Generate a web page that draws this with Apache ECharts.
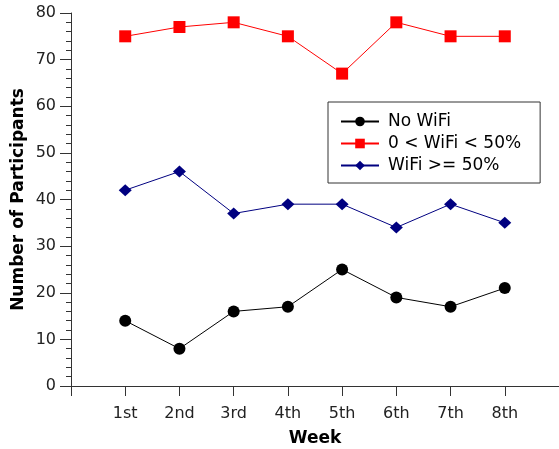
<!DOCTYPE html>
<html><head><meta charset="utf-8">
<script src="https://cdn.jsdelivr.net/npm/echarts@6/dist/echarts.min.js"></script>
<style>html,body{margin:0;padding:0;background:#fff}#c{width:559px;height:449px}</style>
</head><body><div id="c"></div>
<script>
const categories = ['1st','2nd','3rd','4th','5th','6th','7th','8th'];
const noWifi = [14, 8, 16, 17, 25, 19, 17, 21];
const lowWifi = [75, 77, 78, 75, 67, 78, 75, 75];
const highWifi = [42, 46, 37, 39, 39, 34, 39, 35];
const seriesNames = ['No WiFi', '0 < WiFi < 50%', 'WiFi >= 50%'];

const toPts = arr => arr.map((v, i) => [i + 1, v]);
const font = 'DejaVu Sans';
const chart = echarts.init(document.getElementById('c'), null, {renderer: 'canvas'});
chart.setOption({
  animation: false,
  textStyle: {fontFamily: font},
  grid: {left: 71, top: 13, right: 0, bottom: 63, containLabel: false, outerBoundsMode: 'none'},
  xAxis: {
    type: 'value', min: 0, max: 9, interval: 1,
    name: 'Week', nameLocation: 'middle', nameGap: 44, nameMoveOverlap: false,
    nameTextStyle: {fontFamily: font, fontWeight: 'bold', fontSize: 17, color: '#000'},
    axisLine: {show: true, onZero: false, lineStyle: {color: '#333', width: 1}},
    axisTick: {show: true, length: 10, inside: false, lineStyle: {color: '#333'}},
    axisLabel: {margin: 20, fontSize: 16, color: '#222', fontFamily: font,
      formatter: v => (v >= 1 && v <= categories.length) ? categories[v - 1] : ''},
    splitLine: {show: false}
  },
  yAxis: {
    type: 'value', min: 0, max: 80, interval: 10,
    name: 'Number of Participants', nameLocation: 'middle', nameGap: 44, nameMoveOverlap: false,
    nameTextStyle: {fontFamily: font, fontWeight: 'bold', fontSize: 17, color: '#000'},
    axisLine: {show: true, lineStyle: {color: '#333', width: 1}},
    axisTick: {show: true, length: 11, lineStyle: {color: '#333'}},
    minorTick: {show: true, splitNumber: 5, length: 5, lineStyle: {color: '#333'}},
    axisLabel: {margin: 15, fontSize: 16, color: '#222', fontFamily: font},
    splitLine: {show: false}
  },
  legend: {
    left: 328, top: 102,
    orient: 'vertical', itemGap: 5, itemWidth: 38, itemHeight: 12,
    borderColor: '#333', borderWidth: 1, padding: [11, 19, 9, 12],
    textStyle: {fontSize: 17, color: '#000', fontFamily: font, padding: [0, 0, 0, 4]},
    data: seriesNames
  },
  series: [
    {name: seriesNames[0], type: 'line', data: toPts(noWifi), symbol: 'circle', symbolSize: 12,
      lineStyle: {color: '#000', width: 1}, itemStyle: {color: '#000'}},
    {name: seriesNames[1], type: 'line', data: toPts(lowWifi), symbol: 'rect', symbolSize: 12,
      lineStyle: {color: '#ff0000', width: 1}, itemStyle: {color: '#ff0000'}},
    {name: seriesNames[2], type: 'line', data: toPts(highWifi), symbol: 'diamond', symbolSize: [13, 12],
      lineStyle: {color: '#000080', width: 1}, itemStyle: {color: '#000080'}}
  ]
});
</script></body></html>
